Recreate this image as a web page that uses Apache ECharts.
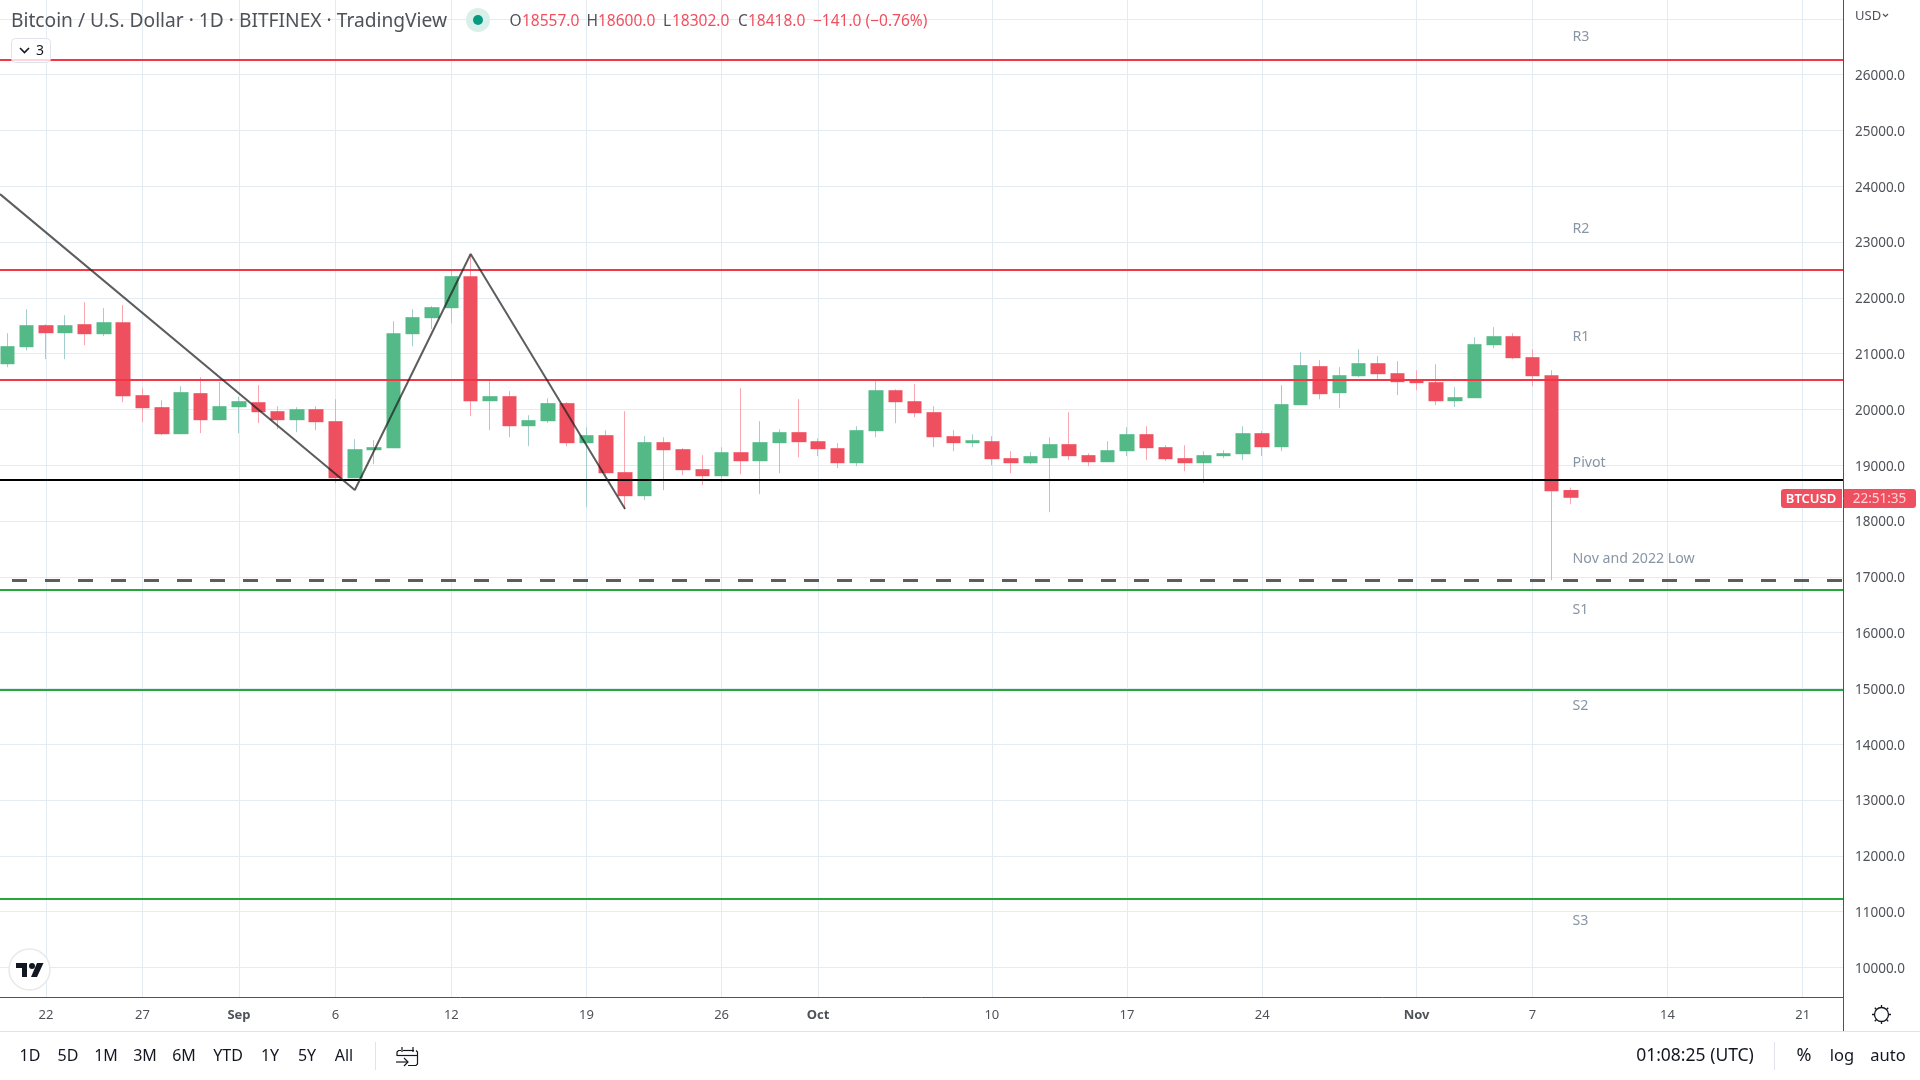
<!DOCTYPE html>
<html>
<head>
<meta charset="utf-8">
<title>Bitcoin / U.S. Dollar</title>
<script src="https://cdn.jsdelivr.net/npm/echarts@6/dist/echarts.min.js"></script>
<style>
  html, body { margin: 0; padding: 0; background: #fff; }
  #chart { width: 1920px; height: 1080px; }
</style>
</head>
<body>
<div id="chart"></div>
<script>
// day index: 0 = 20 Aug 2022
const opens = [20812,21117,21511,21368,21529,21350,21565,20257,20042,19558,20293,19809,20042,20131,19970,19809,20006,19791,18769,19271,19307,21350,21637,21816,22390,20149,20239,19701,19791,20114,19397,19540,18877,18447,19415,19289,18931,18805,19235,19074,19397,19594,19432,19307,19038,19612,20346,20149,19952,19522,19397,19432,19128,19038,19128,19379,19182,19056,19253,19558,19325,19128,19038,19164,19199,19576,19325,20078,20777,20293,20597,20830,20651,20526,20490,20149,20203,21153,21314,20938,20615,18557];
const closes = [21135,21511,21368,21511,21350,21565,20239,20024,19558,20311,19809,20060,20149,19952,19809,20006,19773,18769,19289,19325,21368,21655,21834,22390,20149,20239,19701,19809,20114,19397,19540,18859,18447,19415,19271,18913,18805,19235,19074,19415,19594,19415,19289,19038,19630,20346,20131,19934,19504,19397,19450,19110,19038,19164,19379,19164,19056,19271,19558,19307,19110,19038,19182,19217,19576,19325,20096,20795,20275,20615,20830,20633,20490,20472,20149,20221,21171,21314,20920,20597,18536,18418];
const lows = [20759,21063,20902,20902,21153,21314,20131,19773,19540,19558,19576,19809,19576,19755,19648,19594,19630,18680,18769,19020,19307,21135,21440,21547,19881,19630,19504,19343,19755,19343,18250,18830,18214,18375,18554,18823,18644,18698,18841,18483,18859,19146,19164,18949,18984,19504,19755,19863,19325,19253,19325,19002,18859,19020,18160,19092,18984,19056,19164,19092,19074,18895,18680,19128,19092,19164,19253,20078,20185,20024,20579,20526,20257,20346,20078,20042,20203,21099,20902,20418,16941,18302];
const highs = [21368,21798,21529,21691,21924,21816,21870,20382,20167,20418,20579,20490,20227,20436,20060,20042,20060,20185,19468,19450,21583,21798,21852,22497,22784,20508,20329,19898,20203,20131,19683,19630,19970,19522,19504,19307,19182,19325,20382,19791,19648,20185,19486,19397,19701,20508,20364,20454,20060,19630,19558,19522,19253,19235,19504,19952,19217,19432,19683,19701,19361,19361,19253,19271,19701,19612,20436,21028,20884,20759,21081,20956,20866,20705,20812,20400,21296,21476,21368,21081,20705,18600];

const tickDays = [2, 7, 12, 17, 23, 30, 37, 42, 51, 58, 65, 73, 79, 86, 93];
const tickLabels = ['22', '27', 'Sep', '6', '12', '19', '26', 'Oct', '10', '17', '24', 'Nov', '7', '14', '21'];
const monthLabels = ['Sep', 'Oct', 'Nov'];
const priceLabels = [10000,11000,12000,13000,14000,15000,16000,17000,18000,19000,20000,21000,22000,23000,24000,25000,26000];
const priceGrid = priceLabels.concat([27000]);

const redLevels = [26263, 22500, 20529];
const greenLevels = [16765, 14973, 11230];
const pivotLevel = 18737;
const lowLevel = 16937;

const zigzagDays = [-0.38, 18, 24, 32];
const zigzagPrices = [23860, 18557, 22787, 18216];

const noteNames = ['R3', 'R2', 'R1', 'Pivot', 'Nov and 2022 Low', 'S1', 'S2', 'S3'];
const notePrices = [26702, 23256, 21326, 19067, 17332, 16432, 14710, 10858];
const noteDay = 81.08;

const rangeTabs = ['1D', '5D', '1M', '3M', '6M', 'YTD', '1Y', '5Y', 'All'];
const rangeTabX = [30, 68, 106, 145, 184, 228, 270, 307, 344];

const FONT = '"Noto Sans", sans-serif';
const RED = '#ef5060', GREEN = '#53b987';
const GREY = '#4f5259';

const wickData = opens.map((o, i) => [i, o, closes[i], lows[i], highs[i]]);
const bodyData = opens.map((o, i) => [i, o, closes[i], Math.min(o, closes[i]), Math.max(o, closes[i])]);

function levelLines(values, color, width, type, offset) {
  return values.map(v => ({
    yAxis: v,
    lineStyle: { color: color, width: width, type: type || 'solid', dashOffset: offset || 0 }
  }));
}
function chromeText(text, x, y, size, color, align, weight) {
  return {
    type: 'text', x: x, y: y, z: 100,
    style: {
      text: text, fill: color, font: (weight || 'normal') + ' ' + size + 'px ' + FONT,
      textAlign: align || 'left', textVerticalAlign: 'middle'
    }
  };
}
function stroke(points, color, width) {
  return { type: 'polyline', z: 101, shape: { points: points }, style: { stroke: color, fill: null, lineWidth: width } };
}

const legendParts = [
  ['O', 509.5, GREY], ['18557.0', 522, RED],
  ['H', 586.5, GREY], ['18600.0', 598, RED],
  ['L', 663, GREY], ['18302.0', 672, RED],
  ['C', 738, GREY], ['18418.0', 748, RED],
  ['\u2212141.0 (\u22120.76%)', 813, RED]
];

const INK = '#131722';
let chrome = [
  // bottom toolbar, time scale edge, price scale edge
  { type: 'line', z: 90, shape: { x1: 0, y1: 1031.5, x2: 1920, y2: 1031.5 }, style: { stroke: '#e0e3eb', lineWidth: 1 } },
  { type: 'line', z: 90, shape: { x1: 1843.5, y1: 997, x2: 1843.5, y2: 1031 }, style: { stroke: GREY, lineWidth: 1 } },
  { type: 'line', z: 90, shape: { x1: 375.5, y1: 1042, x2: 375.5, y2: 1070 }, style: { stroke: '#e0e3eb', lineWidth: 1 } },
  { type: 'line', z: 90, shape: { x1: 1774.5, y1: 1042, x2: 1774.5, y2: 1070 }, style: { stroke: '#e0e3eb', lineWidth: 1 } },
  chromeText('Bitcoin / U.S. Dollar \u00b7 1D \u00b7 BITFINEX \u00b7 TradingView', 11, 22, 19.2, GREY),
  { type: 'circle', z: 100, shape: { cx: 478, cy: 20, r: 12 }, style: { fill: '#d9f0ea' } },
  { type: 'circle', z: 101, shape: { cx: 478, cy: 20, r: 5 }, style: { fill: '#089981' } },
  { type: 'rect', z: 100, shape: { x: 11.5, y: 38.5, width: 39, height: 24, r: 4 }, style: { fill: 'rgba(255,255,255,0.8)', stroke: '#e0e3eb', lineWidth: 1 } },
  stroke([[20, 48], [24.5, 52.5], [29, 48]], INK, 1.6),
  chromeText('3', 40, 51, 14, INK, 'center'),
  // logo
  { type: 'circle', z: 100, shape: { cx: 29.5, cy: 969.5, r: 20.5 }, style: { fill: '#fff', stroke: '#e9e9ea', lineWidth: 1.5 } },
  { type: 'polygon', z: 101, shape: { points: [[16, 963], [27, 963], [27, 977], [22, 977], [22, 968], [16, 968]] }, style: { fill: INK } },
  { type: 'polygon', z: 101, shape: { points: [[37, 963], [43.5, 963], [37, 977], [31, 977]] }, style: { fill: INK } },
  { type: 'circle', z: 101, shape: { cx: 32, cy: 966, r: 3 }, style: { fill: INK } },
  // price tag
  { type: 'rect', z: 100, shape: { x: 1781, y: 489, width: 61, height: 19, r: [3, 0, 0, 3] }, style: { fill: RED } },
  { type: 'rect', z: 100, shape: { x: 1844, y: 489, width: 72, height: 19, r: [0, 3, 3, 0] }, style: { fill: RED } },
  chromeText('BTCUSD', 1811, 499, 13, '#fff', 'center', 600),
  chromeText('22:51:35', 1879.5, 499, 13.5, '#fbd5d9', 'center'),
  chromeText('USD', 1855, 16, 13, GREY),
  stroke([[1883, 14], [1885.5, 16.5], [1888, 14]], GREY, 1.2),
  // calendar icon
  stroke([[401, 1050.5], [398.5, 1050.5], [397, 1052], [397, 1056]], INK, 1.2),
  stroke([[403, 1050.5], [414, 1050.5]], INK, 1.2),
  stroke([[397, 1055.5], [417, 1055.5]], INK, 1.2),
  stroke([[416, 1050.5], [417.5, 1052], [417.5, 1064], [416, 1065.5], [408, 1065.5]], INK, 1.2),
  stroke([[402, 1047], [402, 1052]], INK, 1.2),
  stroke([[413, 1047], [413, 1052]], INK, 1.2),
  stroke([[396, 1062], [408, 1062]], INK, 1.2),
  stroke([[404, 1058], [408, 1062], [404, 1066]], INK, 1.2),
  // settings gear
  { type: 'circle', z: 100, shape: { cx: 1881.5, cy: 1014.5, r: 7 }, style: { fill: null, stroke: INK, lineWidth: 1.3 } },
  stroke([[1881.5, 1005], [1881.5, 1007]], INK, 1.3),
  stroke([[1881.5, 1022], [1881.5, 1024]], INK, 1.3),
  stroke([[1872, 1014.5], [1874, 1014.5]], INK, 1.3),
  stroke([[1889, 1014.5], [1891, 1014.5]], INK, 1.3),
  stroke([[1874.8, 1007.8], [1876.2, 1009.2]], INK, 1.3),
  stroke([[1886.8, 1019.8], [1888.2, 1021.2]], INK, 1.3),
  stroke([[1874.8, 1021.2], [1876.2, 1019.8]], INK, 1.3),
  stroke([[1886.8, 1009.2], [1888.2, 1007.8]], INK, 1.3),
  chromeText('01:08:25 (UTC)', 1695, 1056, 17.5, INK, 'center'),
  chromeText('%', 1804, 1056, 18, INK, 'center'),
  chromeText('log', 1842, 1056, 16.5, INK, 'center'),
  chromeText('auto', 1888, 1056, 16.5, INK, 'center')
];
legendParts.forEach(p => chrome.push(chromeText(p[0], p[1], 22, 15.5, p[2])));
rangeTabs.forEach((t, i) => chrome.push(chromeText(t, rangeTabX[i], 1056, 16, INK, 'center')));

const chart = echarts.init(document.getElementById('chart'), null, { width: 1920, height: 1080 });
chart.setOption({
  animation: false,
  backgroundColor: '#ffffff',
  grid: { left: 0, right: 77, top: 0, bottom: 83 },
  xAxis: {
    type: 'value',
    min: -0.38,
    max: 95.09,
    axisLine: { onZero: false, lineStyle: { color: GREY, width: 1 } },
    axisTick: { show: false, customValues: tickDays },
    splitLine: { show: true, lineStyle: { color: '#e2ecf2', width: 1 } },
    axisLabel: {
      customValues: tickDays,
      margin: 12,
      hideOverlap: false,
      color: GREY,
      fontFamily: FONT,
      fontSize: 13,
      formatter: v => {
        const name = tickLabels[tickDays.indexOf(v)];
        return monthLabels.includes(name) ? '{m|' + name + '}' : name;
      },
      rich: { m: { fontWeight: 'bold', fontSize: 13, fontFamily: FONT, color: GREY } }
    }
  },
  yAxis: {
    type: 'value',
    position: 'right',
    min: 9472,
    max: 27339,
    axisLine: { show: true, onZero: false, lineStyle: { color: GREY, width: 1 } },
    axisTick: { show: false, customValues: priceGrid },
    splitLine: { show: true, lineStyle: { color: '#e2ecf2', width: 1 } },
    axisLabel: {
      customValues: priceLabels,
      margin: 12,
      color: GREY,
      fontFamily: FONT,
      fontSize: 13.5,
      formatter: v => '{p|' + v.toFixed(1) + '}',
      rich: { p: { padding: [3, 0, 0, 0], color: GREY, fontFamily: FONT, fontSize: 13.5 } }
    }
  },
  series: [
    {
      name: 'wick',
      type: 'candlestick',
      data: wickData,
      encode: { x: 0, y: [1, 2, 3, 4] },
      barWidth: 1,
      z: 2,
      itemStyle: { color: '#f9a6b0', color0: '#f9a6b0', borderColor: '#a3cecb', borderColor0: '#f9a6b0', borderWidth: 1 }
    },
    {
      name: 'body',
      type: 'candlestick',
      data: bodyData,
      encode: { x: 0, y: [1, 2, 3, 4] },
      barWidth: 15,
      z: 3,
      itemStyle: { color: GREEN, color0: RED, borderColor: GREEN, borderColor0: RED, borderWidth: 0 }
    },
    {
      name: 'levels',
      type: 'line',
      data: [],
      z: 4,
      markLine: {
        silent: true,
        symbol: 'none',
        label: { show: false },
        animation: false,
        data: [].concat(
          levelLines(redLevels, '#f23645', 2),
          levelLines(greenLevels, '#26a73a', 2),
          levelLines([pivotLevel], '#000000', 2),
          levelLines([lowLevel], '#5d5d5d', 3, [15, 18], 21)
        )
      }
    },
    {
      name: 'zigzag',
      type: 'line',
      data: zigzagDays.map((d, i) => [d, zigzagPrices[i]]),
      symbol: 'none',
      z: 5,
      lineStyle: { color: 'rgba(30,30,30,0.72)', width: 2 }
    },
    {
      name: 'notes',
      type: 'scatter',
      symbolSize: 0,
      z: 6,
      data: noteNames.map((n, i) => ({ name: n, value: [noteDay, notePrices[i]] })),
      label: {
        show: true,
        position: 'right',
        distance: 0,
        offset: [0, 1],
        formatter: '{b}',
        color: '#6a7a8c',
        fontFamily: FONT,
        fontSize: 14.2
      }
    }
  ],
  graphic: { elements: chrome }
});
</script>
</body>
</html>
